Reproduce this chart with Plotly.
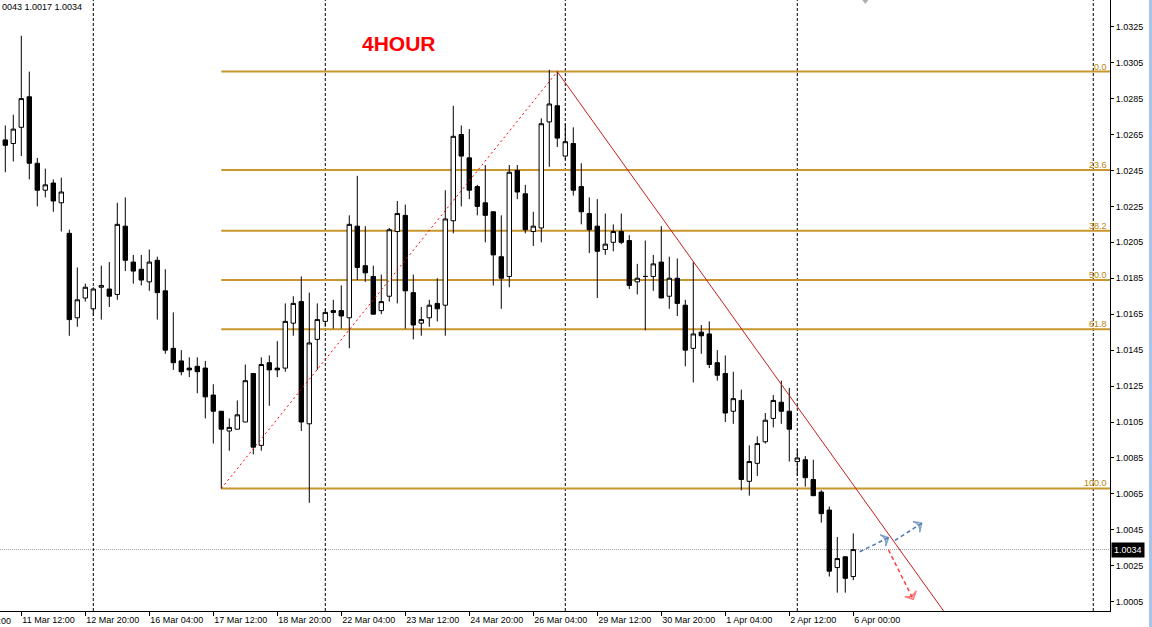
import plotly.graph_objects as go

# ---------------- data: 4-hour candles (oldest -> newest) ----------------
opens = [1.0262, 1.0260, 1.0269, 1.0286, 1.0249, 1.0234, 1.0238, 1.0227, 1.0210, 1.0163,
         1.0174, 1.0168, 1.0180, 1.0179, 1.0176, 1.0214, 1.0194, 1.0190, 1.0183, 1.0195,
         1.0178, 1.0146, 1.0139, 1.0135, 1.0136, 1.0135, 1.0120, 1.0111, 1.0100, 1.0101,
         1.0105, 1.0132, 1.0092, 1.0138, 1.0135, 1.0135, 1.0160, 1.0172, 1.0104, 1.0151,
         1.0161, 1.0167, 1.0167, 1.0163, 1.0214, 1.0192, 1.0186, 1.0167, 1.0175, 1.0211,
         1.0220, 1.0177, 1.0160, 1.0163, 1.0171, 1.0170, 1.0217, 1.0265, 1.0252, 1.0236,
         1.0227, 1.0222, 1.0197, 1.0186, 1.0245, 1.0232, 1.0211, 1.0213, 1.0272, 1.0281,
         1.0253, 1.0260, 1.0236, 1.0221, 1.0214, 1.0201, 1.0205, 1.0211, 1.0206, 1.0183,
         1.0186, 1.0186, 1.0194, 1.0175, 1.0185, 1.0170, 1.0146, 1.0155, 1.0154, 1.0138,
         1.0132, 1.0111, 1.0117, 1.0072, 1.0082, 1.0094, 1.0107, 1.0116, 1.0111, 1.0083,
         1.0084, 1.0073, 1.0066, 1.0056, 1.0024, 1.0030, 1.0019]
highs = [1.0270, 1.0276, 1.0320, 1.0300, 1.0252, 1.0246, 1.0240, 1.0241, 1.0212, 1.0191,
         1.0182, 1.0180, 1.0192, 1.0194, 1.0227, 1.0230, 1.0198, 1.0198, 1.0201, 1.0197,
         1.0190, 1.0166, 1.0145, 1.0141, 1.0141, 1.0139, 1.0126, 1.0111, 1.0107, 1.0117,
         1.0137, 1.0132, 1.0141, 1.0142, 1.0150, 1.0171, 1.0175, 1.0186, 1.0177, 1.0171,
         1.0168, 1.0173, 1.0181, 1.0220, 1.0242, 1.0214, 1.0192, 1.0187, 1.0213, 1.0228,
         1.0226, 1.0187, 1.0169, 1.0173, 1.0185, 1.0234, 1.0281, 1.0270, 1.0268, 1.0237,
         1.0248, 1.0222, 1.0220, 1.0248, 1.0248, 1.0237, 1.0222, 1.0274, 1.0301, 1.0300,
         1.0271, 1.0269, 1.0249, 1.0230, 1.0229, 1.0221, 1.0215, 1.0221, 1.0209, 1.0193,
         1.0206, 1.0198, 1.0214, 1.0197, 1.0196, 1.0173, 1.0194, 1.0159, 1.0161, 1.0145,
         1.0142, 1.0133, 1.0123, 1.0092, 1.0097, 1.0110, 1.0120, 1.0128, 1.0124, 1.0090,
         1.0086, 1.0084, 1.0067, 1.0058, 1.0041, 1.0030, 1.0043]
lows = [1.0244, 1.0250, 1.0253, 1.0240, 1.0225, 1.0230, 1.0222, 1.0211, 1.0153, 1.0158,
        1.0172, 1.0164, 1.0162, 1.0169, 1.0173, 1.0189, 1.0182, 1.0181, 1.0178, 1.0162,
        1.0143, 1.0134, 1.0131, 1.0130, 1.0121, 1.0107, 1.0093, 1.0068, 1.0089, 1.0101,
        1.0105, 1.0087, 1.0089, 1.0114, 1.0130, 1.0133, 1.0153, 1.0100, 1.0060, 1.0134,
        1.0158, 1.0157, 1.0157, 1.0146, 1.0184, 1.0183, 1.0165, 1.0165, 1.0172, 1.0171,
        1.0157, 1.0151, 1.0153, 1.0158, 1.0161, 1.0153, 1.0210, 1.0225, 1.0229, 1.0220,
        1.0205, 1.0181, 1.0168, 1.0180, 1.0229, 1.0210, 1.0203, 1.0205, 1.0247, 1.0258,
        1.0251, 1.0231, 1.0215, 1.0199, 1.0174, 1.0198, 1.0200, 1.0204, 1.0179, 1.0176,
        1.0156, 1.0178, 1.0174, 1.0168, 1.0164, 1.0136, 1.0127, 1.0143, 1.0135, 1.0128,
        1.0105, 1.0104, 1.0067, 1.0064, 1.0075, 1.0093, 1.0102, 1.0104, 1.0083, 1.0075,
        1.0069, 1.0064, 1.0049, 1.0019, 1.0010, 1.0010, 1.0017]
closes = [1.0259, 1.0268, 1.0285, 1.0249, 1.0234, 1.0237, 1.0228, 1.0233, 1.0162, 1.0173,
          1.0180, 1.0179, 1.0181, 1.0175, 1.0215, 1.0195, 1.0189, 1.0184, 1.0194, 1.0177,
          1.0145, 1.0138, 1.0133, 1.0134, 1.0133, 1.0119, 1.0111, 1.0101, 1.0102, 1.0109,
          1.0128, 1.0091, 1.0137, 1.0134, 1.0134, 1.0161, 1.0171, 1.0105, 1.0149, 1.0162,
          1.0166, 1.0166, 1.0164, 1.0215, 1.0191, 1.0188, 1.0165, 1.0172, 1.0212, 1.0221,
          1.0178, 1.0159, 1.0162, 1.0170, 1.0168, 1.0218, 1.0264, 1.0253, 1.0234, 1.0225,
          1.0220, 1.0198, 1.0185, 1.0244, 1.0233, 1.0212, 1.0214, 1.0271, 1.0282, 1.0263,
          1.0261, 1.0234, 1.0222, 1.0212, 1.0200, 1.0204, 1.0211, 1.0205, 1.0181, 1.0185,
          1.0186, 1.0193, 1.0174, 1.0185, 1.0171, 1.0145, 1.0154, 1.0153, 1.0137, 1.0131,
          1.0110, 1.0118, 1.0073, 1.0083, 1.0093, 1.0106, 1.0117, 1.0111, 1.0101, 1.0085,
          1.0074, 1.0064, 1.0054, 1.0022, 1.0029, 1.0018, 1.0034]

# time-axis labels (one every 8 bars, first at bar 2)
tick_labels = ["11 Mar 12:00", "12 Mar 20:00", "16 Mar 04:00", "17 Mar 12:00", "18 Mar 20:00",
               "22 Mar 04:00", "23 Mar 12:00", "24 Mar 20:00", "26 Mar 04:00", "29 Mar 12:00",
               "30 Mar 20:00", "1 Apr 04:00", "2 Apr 12:00", "6 Apr 00:00"]
first_tick_bar = 2
bars_per_tick = 8
clipped_label = "10 Mar 04:00"          # partly visible label at the left edge

price_ticks = [1.0005, 1.0025, 1.0045, 1.0065, 1.0085, 1.0105, 1.0125, 1.0145, 1.0165,
               1.0185, 1.0205, 1.0225, 1.0245, 1.0265, 1.0285, 1.0305, 1.0325]

separator_bars = [11, 40, 70, 99, 136]

# Fibonacci retracement anchors (bar, price) and levels
fib_low = (27, 1.0068)
fib_high = (69, 1.0300)
fib_levels = [0.0, 23.6, 38.2, 50.0, 61.8, 100.0]

# down trend line (two anchor points, extended as a ray)
trend_a = (69, 1.0300)
trend_b = (109.3, 1.00495)

# hand-drawn scenario arrows: (bar, price) start -> end
blue_arrow_1 = [(106.8, 1.00328), (110.4, 1.00406)]
blue_arrow_2 = [(111.2, 1.00391), (114.55, 1.00486)]
red_arrow = [(110.4, 1.00338), (113.5, 1.00063)]

title_text = "4HOUR"
title_pos = (49.2, 1.03157)
info_text = "0043 1.0017 1.0034"
shift_marker_bar = 107.5                 # chart-shift marker on the top edge

# ---------------- layout constants ----------------
W, H = 1152, 627
M_L, M_R, M_T, M_B = 0, 42, 0, 16
X_RANGE = [-0.6625, 138.09]
Y_RANGE = [0.999982, 1.033986]
FONT = "Liberation Sans, Arial, sans-serif"
FIB_COLOR = "#C8962D"
FIB_TEXT = "#B8860B"

plot_w = W - M_L - M_R
plot_h = H - M_T - M_B

bars = list(range(len(opens)))

fig = go.Figure()
fig.add_trace(go.Candlestick(
    x=bars, open=opens, high=highs, low=lows, close=closes,
    increasing=dict(line=dict(color="black", width=1), fillcolor="white"),
    decreasing=dict(line=dict(color="black", width=1), fillcolor="black"),
    whiskerwidth=0, hoverinfo="skip", showlegend=False,
))

shapes = []
# weekly separators
for b in separator_bars:
    shapes.append(dict(type="line", xref="x", yref="paper", x0=b, x1=b, y0=0, y1=1,
                       line=dict(color="black", width=1, dash="3px,2px"), layer="below"))

# fib levels
rng = fib_high[1] - fib_low[1]
annotations = []
for lv in fib_levels:
    p = fib_high[1] - rng * lv / 100.0
    shapes.append(dict(type="line", xref="x", yref="y", x0=fib_low[0], x1=X_RANGE[1],
                       y0=p, y1=p, line=dict(color=FIB_COLOR, width=2), layer="below"))
    annotations.append(dict(xref="paper", x=1, xanchor="right", xshift=-1,
                            yref="y", y=p, yanchor="bottom", yshift=-2,
                            text=f"{lv:.1f}", showarrow=False,
                            font=dict(family=FONT, size=9, color=FIB_TEXT)))

# current price line
last_close = closes[-1]
shapes.append(dict(type="line", xref="paper", yref="y", x0=0, x1=1, y0=last_close, y1=last_close,
                   line=dict(color="#9A9A9A", width=1, dash="1px,1px"), layer="below"))

# window border strip at far right
shapes.append(dict(type="rect", xref="paper", yref="paper",
                   x0=(W - 3 - M_L) / plot_w, x1=(W - M_L) / plot_w,
                   y0=-M_B / plot_h, y1=1 + M_T / plot_h,
                   line=dict(width=0), fillcolor="#A8C4EA"))

# fib connecting line (dotted red)
fig.add_trace(go.Scatter(x=[fib_low[0], fib_high[0]], y=[fib_low[1], fib_high[1]],
                         mode="lines", line=dict(color="#FF0000", width=1, dash="2px,3px"),
                         hoverinfo="skip", showlegend=False))

# trend ray
slope = (trend_b[1] - trend_a[1]) / (trend_b[0] - trend_a[0])
ray_end = 150
fig.add_trace(go.Scatter(x=[trend_a[0], ray_end],
                         y=[trend_a[1], trend_a[1] + slope * (ray_end - trend_a[0])],
                         mode="lines", line=dict(color="#C41E1E", width=1),
                         hoverinfo="skip", showlegend=False))

# arrows (dashed shaft + open arrow head oriented along the shaft)
for arr, col in [(blue_arrow_1, "#4A78B0"), (blue_arrow_2, "#4A78B0"), (red_arrow, "#FF3B3B")]:
    (x0, y0), (x1, y1) = arr
    fig.add_trace(go.Scatter(x=[x0, x1], y=[y0, y1], mode="lines",
                             line=dict(color=col, width=1.5, dash="4px,3px"),
                             hoverinfo="skip", showlegend=False, cliponaxis=False))
    fig.add_trace(go.Scatter(x=[x0, x1], y=[y0, y1], mode="markers",
                             marker=dict(symbol="arrow-wide-open", size=[0, 9], angleref="previous",
                                         color=col, line=dict(color=col, width=1.5)),
                             hoverinfo="skip", showlegend=False, cliponaxis=False))

# chart-shift marker at top edge
fig.add_trace(go.Scatter(x=[shift_marker_bar], y=[Y_RANGE[1]], mode="markers",
                         marker=dict(symbol="triangle-down", size=8, color="#B0B0B0"),
                         hoverinfo="skip", showlegend=False, cliponaxis=True))

# texts
annotations.append(dict(xref="x", yref="y", x=title_pos[0], y=title_pos[1], text=f"<b>{title_text}</b>",
                        showarrow=False, font=dict(family=FONT, size=21, color="#FF0000")))
annotations.append(dict(xref="paper", yref="paper", x=0, y=1, xanchor="left", yanchor="top",
                        text=info_text, showarrow=False,
                        font=dict(family=FONT, size=9, color="black")))
# partly clipped time label at left edge
clip_bar = first_tick_bar - bars_per_tick
annotations.append(dict(xref="paper", yref="paper",
                        x=(clip_bar - X_RANGE[0]) / (X_RANGE[1] - X_RANGE[0]), xanchor="left", xshift=-1,
                        y=0, yanchor="top", yshift=-3, text=clipped_label, showarrow=False,
                        font=dict(family=FONT, size=9, color="black")))
# current price tag
annotations.append(dict(xref="paper", x=1, xanchor="left", xshift=1, yref="y", y=last_close,
                        text=f"{last_close:.4f}", showarrow=False, bgcolor="black", borderpad=2,
                        font=dict(family=FONT, size=9, color="white")))

tick_vals = [first_tick_bar + bars_per_tick * k for k in range(len(tick_labels))]

fig.update_layout(
    width=W, height=H, margin=dict(l=M_L, r=M_R, t=M_T, b=M_B, pad=0),
    paper_bgcolor="white", plot_bgcolor="white", showlegend=False,
    boxgap=0.45, boxgroupgap=0,
    shapes=shapes, annotations=annotations,
    xaxis=dict(range=X_RANGE, tickmode="array", tickvals=tick_vals, ticktext=tick_labels,
               ticks="outside", ticklen=4, tickcolor="black", tickwidth=1,
               ticklabelposition="outside right",
               showgrid=False, zeroline=False, showline=True, linecolor="black", linewidth=1,
               rangeslider=dict(visible=False), fixedrange=True,
               tickfont=dict(family=FONT, size=9, color="black")),
    yaxis=dict(range=Y_RANGE, side="right", tickmode="array", tickvals=price_ticks,
               ticktext=[f"{v:.4f}" for v in price_ticks],
               ticks="outside", ticklen=3, tickcolor="black", tickwidth=1,
               showgrid=False, zeroline=False, showline=True, linecolor="black", linewidth=1,
               fixedrange=True, tickfont=dict(family=FONT, size=9, color="black")),
)

fig.write_html("out.html", config={"displayModeBar": False, "staticPlot": True},
               post_script="document.body.style.margin='0px';document.body.style.overflow='hidden';")
